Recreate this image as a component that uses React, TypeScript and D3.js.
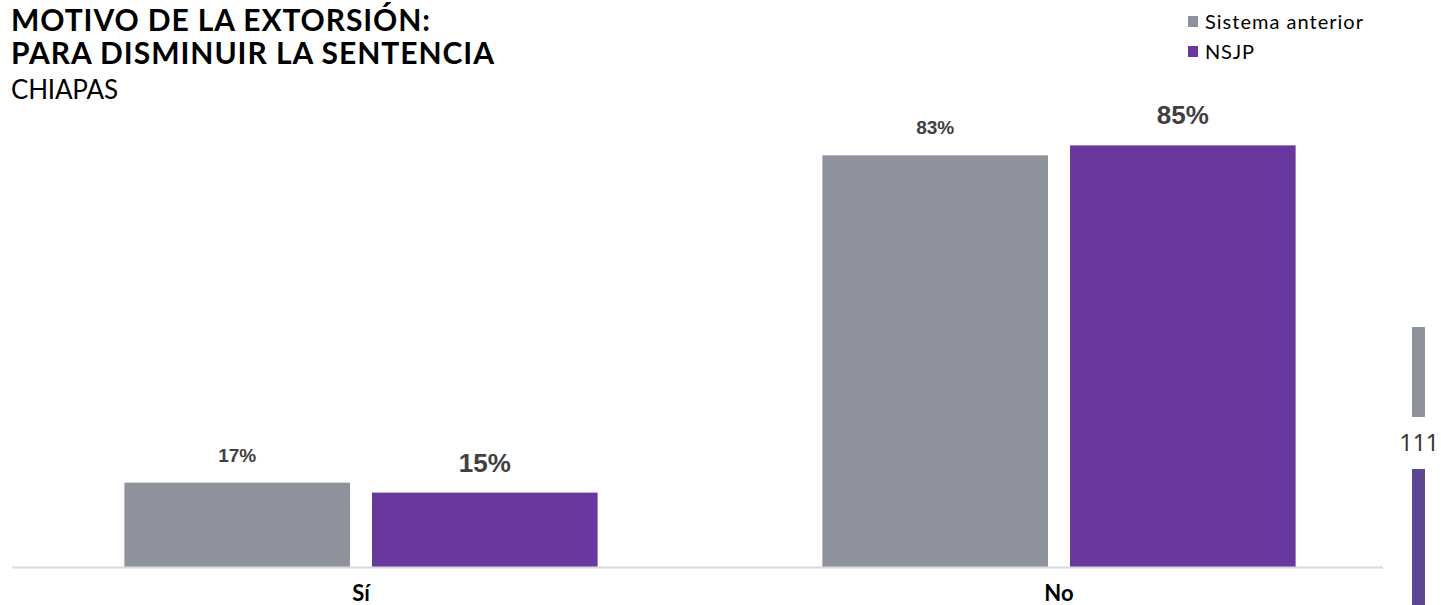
import React from "react";
import * as d3 from "d3";

const categories = ["Sí", "No"];
const series = ["Sistema anterior", "NSJP"];
const sistemaAnterior = [17, 83];
const nsjp = [15, 85];
const colors = ["#8E929C", "#68389E"];
const labelSizes = [19, 26];
const legendLengths = [158, 49];
const sideCount = "111";

const W = 1441;
const H = 605;

export default function App() {
  const x0 = d3
    .scaleBand<string>()
    .domain(categories)
    .range([12, 1408])
    .paddingInner(0.322)
    .paddingOuter(0.161);
  const x1 = d3
    .scaleBand<string>()
    .domain(series)
    .range([0, x0.bandwidth()])
    .paddingInner(0.089)
    .paddingOuter(0);
  const y = d3.scaleLinear().domain([0, 100]).range([567, 71]);
  const values = [sistemaAnterior, nsjp];

  return (
    <svg
      width={W}
      height={H}
      style={{ position: "absolute", left: 0, top: 0, background: "#fff" }}
      fontFamily="Lato, sans-serif"
    >
      <text x={11} y={31} fontSize={30} fontWeight={700} fill="#000" textLength={419} lengthAdjust="spacing">
        MOTIVO DE LA EXTORSIÓN:
      </text>
      <text x={11} y={64} fontSize={30} fontWeight={700} fill="#000" textLength={483} lengthAdjust="spacing">
        PARA DISMINUIR LA SENTENCIA
      </text>
      <text x={11} y={99} fontSize={26} fill="#000" textLength={107} lengthAdjust="spacing">
        CHIAPAS
      </text>

      {series.map((s, i) => (
        <g key={s} transform={`translate(1188, ${16 + i * 30})`}>
          <rect width={10} height={11} fill={colors[i]} />
          <text
            x={17}
            y={13}
            fontSize={20}
            fill="#000"
            textLength={legendLengths[i]}
            lengthAdjust="spacing"
          >
            {s}
          </text>
        </g>
      ))}

      {categories.map((c, ci) => (
        <g key={c} transform={`translate(${x0(c)}, 0)`}>
          {series.map((s, si) => {
            const v = values[si][ci];
            const bx = x1(s)!;
            return (
              <g key={s}>
                <rect
                  x={bx}
                  y={y(v)}
                  width={x1.bandwidth()}
                  height={y(0) - y(v)}
                  fill={colors[si]}
                />
                <text
                  x={bx + x1.bandwidth() / 2}
                  y={y(v) - 21}
                  textAnchor="middle"
                  fontSize={labelSizes[si]}
                  fontWeight={700}
                  fill="#404040"
                  fontFamily="Liberation Sans, Arial, sans-serif"
                >
                  {v}%
                </text>
              </g>
            );
          })}
          <text
            x={x0.bandwidth() / 2}
            y={601}
            textAnchor="middle"
            fontSize={22}
            fontWeight={700}
            fill="#000"
          >
            {c}
          </text>
        </g>
      ))}

      <line x1={12} x2={1383} y1={567.5} y2={567.5} stroke="#D9D9D9" strokeWidth={2} />

      <rect x={1412} y={327} width={13} height={90} fill="#8E929C" />
      <text
        x={1439}
        y={451}
        fontSize={23}
        fill="#333"
        textAnchor="end"
        fontFamily="Noto Sans, sans-serif"
      >
        {sideCount}
      </text>
      <rect x={1412} y={469} width={13} height={136} fill="#5E4691" />
    </svg>
  );
}
